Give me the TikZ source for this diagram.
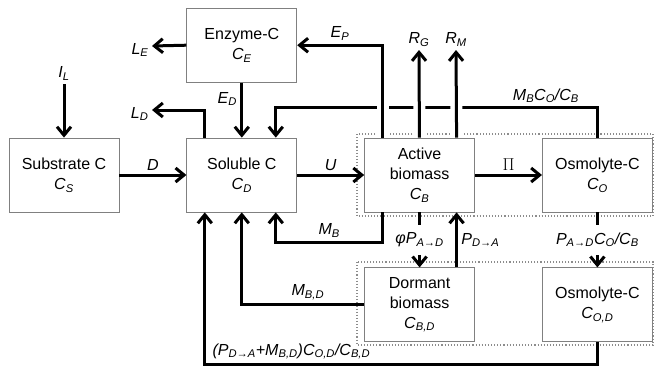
\documentclass[tikz,border=0pt]{standalone}
\usepackage{fontspec}
\setmainfont{Liberation Sans}
\usetikzlibrary{
    arrows.meta,
    positioning,
    calc
}

\newcommand{\cvar}[2]{\textit{#1\textsubscript{#2}}}

\begin{document}
\begin{tikzpicture}[
        x=1pt, y=-1pt,
        font=\fontsize{16}{20}\selectfont,
        node distance=55pt and 67pt,
        pool/.style={
            rectangle,
            draw=black!50,
            line width=0.8pt,
            align=center,
            minimum width=110pt,
            minimum height=74pt,
            inner sep=2pt
        },
        flux/.style={
            -{Straight Barb[length=8.5pt,width=14pt]},
            line width=3pt
        },
        bridge/.style={
            preaction={draw=white, line width=12pt, -}
        },
        cut/.style={
            fill=white,
            inner ysep=8pt
        },
        frame/.style={
            draw=black!45,
            dotted,
            line width=1.1pt
        }
    ]

    \useasboundingbox (0,0) rectangle (654,365);

    \draw[frame] (357,134) rectangle (653,216);
    \draw[frame] (357,262) rectangle (653,345);

    \node[pool] (substrate) at (64,175)
        {Substrate C\\ \cvar{C}{S}};

    \node[pool, right=of substrate] (soluble)
        {Soluble C\\ \cvar{C}{D}};

    \node[pool, above=of soluble] (enzyme)
        {Enzyme-C\\ \cvar{C}{E}};

    \node[pool, right=of soluble] (active)
        {Active\\ biomass\\ \cvar{C}{B}};

    \node[pool, right=of active] (osmo)
        {Osmolyte-C\\ \cvar{C}{O}};

    \node[pool, below=of active] (dormant)
        {Dormant\\ biomass\\ \cvar{C}{B,D}};

    \node[pool, below=of osmo] (osmod)
        {Osmolyte-C\\ \cvar{C}{O,D}};

    \node[anchor=south] (il) at (64,84) {\cvar{I}{L}};
    \coordinate (letip) at (152,46);
    \node[left=0pt of letip, yshift=-4pt] (le) {\cvar{L}{E}};
    \coordinate (ldtip) at (152,110);
    \node[left=0pt of ldtip, yshift=-4pt] (ld) {\cvar{L}{D}};
    \coordinate (rgtip) at (419,50);
    \node[above=0pt of rgtip] (rg) {\cvar{R}{G}};
    \coordinate (rmtip) at (456,50);
    \node[above=0pt of rmtip] (rm) {\cvar{R}{M}};

    \draw[flux] (il) -- (substrate);
    \draw[flux] (substrate) -- node[above] {\textit{D}} (soluble);
    \draw[flux] (enzyme.west) -- (letip);
    \draw[flux] (enzyme) -- node[left, pos=0.3] {\cvar{E}{D}} (soluble);
    \draw[flux] ([xshift=-37pt]soluble.north) |- (ldtip);

    \draw[flux]
        (osmo.north) -- ++(0,-30)
        -|
        node[above, pos=0.08] {\textit{M\textsubscript{B}C\textsubscript{O}/C\textsubscript{B}}}
        ([xshift=34pt]soluble.north);

    \draw[flux, bridge]
        ([xshift=-37pt]active.north)
        |-
        node[above, pos=0.75] {\cvar{E}{P}}
        (enzyme.east);
    \draw[flux, bridge] (active) -- (rgtip);
    \draw[flux, bridge] ([xshift=37pt]active.north) -- (rmtip);

    \draw[flux] (soluble) -- node[above] {\textit{U}} (active);
    \draw[flux] (active) -- node[above] {$\Pi$} (osmo);

    \draw[flux]
        ([xshift=-37pt]active.south) -- ++(0,30)
        -|
        node[above, pos=0.25] {\cvar{M}{B}}
        ([xshift=34pt]soluble.south);

    \draw[flux] (active) -- node[cut] {\textit{φP\textsubscript{A→D}}} (dormant);
    \draw[flux]
        ([xshift=37pt]dormant.north)
        --
        node[right] {\cvar{P}{D→A}}
        ([xshift=37pt]active.south);
    \draw[flux] (osmo) -- node[cut] {\textit{P\textsubscript{A→D}C\textsubscript{O}/C\textsubscript{B}}} (osmod);

    \draw[flux]
        (dormant.west)
        -|
        node[above, pos=0.23] {\cvar{M}{B,D}}
        (soluble.south);

    \draw[flux]
        (osmod.south) -- ++(0,22)
        -|
        node[pos=0.5, anchor=south west, xshift=3pt] {\textit{(P\textsubscript{D→A}+M\textsubscript{B,D})C\textsubscript{O,D}/C\textsubscript{B,D}}}
        ([xshift=-37pt]soluble.south);

\end{tikzpicture}
\end{document}
